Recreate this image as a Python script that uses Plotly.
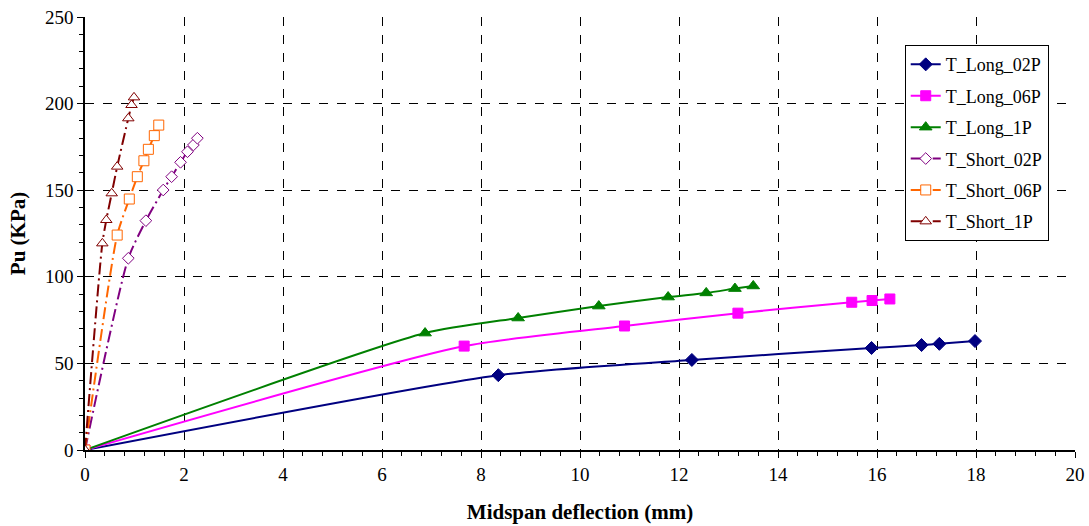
import plotly.graph_objects as go

long02_x = [0, 8.35, 12.26, 15.89, 16.9, 17.26, 17.98]
long02_y = [0, 43.2, 52.0, 58.9, 60.6, 61.3, 62.9]
long06_x = [0, 7.66, 10.9, 13.19, 15.49, 15.9, 16.26]
long06_y = [0, 60.0, 71.6, 79.0, 85.3, 86.3, 87.2]
long1_x = [0, 6.87, 8.75, 10.38, 11.78, 12.55, 13.13, 13.5]
long1_y = [0, 67.5, 76.2, 83.1, 88.3, 90.7, 93.2, 94.7]
short02_x = [0, 0.875, 1.23, 1.58, 1.75, 1.93, 2.07, 2.19, 2.27]
short02_y = [0, 110.7, 132.4, 150.1, 157.8, 166.1, 172.2, 176.1, 180.0]
short06_x = [0, 0.65, 0.895, 1.057, 1.19, 1.28, 1.4, 1.49]
short06_y = [0, 124.1, 144.9, 157.8, 167.0, 173.6, 181.5, 187.6]
short1_x = [0, 0.35, 0.43, 0.54, 0.65, 0.875, 0.94, 0.99]
short1_y = [0, 119.3, 132.8, 148.2, 163.6, 191.5, 199.2, 203.6]

names = ["T_Long_02P", "T_Long_06P", "T_Long_1P", "T_Short_02P", "T_Short_06P", "T_Short_1P"]
xs = [long02_x, long06_x, long1_x, short02_x, short06_x, short1_x]
ys = [long02_y, long06_y, long1_y, short02_y, short06_y, short1_y]
colors = ["#000080", "#FF00FF", "#008000", "#800080", "#FF6600", "#800000"]
symbols = ["diamond", "square", "triangle-up", "diamond", "square", "triangle-up"]
sizes = [10, 10, 11, 9, 10, 10]
filled = [True, True, True, False, False, False]

fig = go.Figure()
for i in range(6):
    fig.add_trace(go.Scatter(
        x=xs[i], y=ys[i], name=names[i], mode="lines+markers",
        legendgroup=names[i],
        line=dict(color=colors[i], width=2, shape="spline", smoothing=0.6,
                  dash="solid" if filled[i] else "12px,4px,2px,4px"),
        marker=dict(symbol=symbols[i], size=sizes[i],
                    color=colors[i] if filled[i] else "white",
                    line=dict(color=colors[i], width=1)),
    ))

font = "Liberation Serif"
fig.update_layout(
    width=1089, height=526,
    margin=dict(l=85, r=14, t=17, b=76, autoexpand=False),
    plot_bgcolor="white", paper_bgcolor="white",
    font=dict(family=font, size=19, color="black"),
    showlegend=True,
    legend=dict(x=0.828, y=0.935, xanchor="left", yanchor="top",
                bgcolor="white", bordercolor="black", borderwidth=1,
                font=dict(family=font, size=18, color="black"), tracegroupgap=5,
                itemwidth=30),
    xaxis=dict(range=[0, 20], dtick=2, showgrid=True, gridcolor="black",
               griddash="dash", gridwidth=1, zeroline=False, automargin=False,
               showline=True, linecolor="black", linewidth=1.5,
               ticks="outside", ticklen=6, tickcolor="black",
               minor=dict(dtick=0.4, ticks="outside", ticklen=4, tickcolor="black", showgrid=False),
               title=dict(text="<b>Midspan deflection (mm)</b>", font=dict(family=font, size=21), standoff=21),
               tickfont=dict(family=font, size=19)),
    yaxis=dict(range=[0, 250], dtick=50, showgrid=True, gridcolor="black",
               griddash="dash", gridwidth=1, zeroline=False, automargin=False,
               showline=True, linecolor="black", linewidth=1.5,
               ticks="outside", ticklen=6, tickcolor="black",
               minor=dict(dtick=10, ticks="outside", ticklen=4, tickcolor="black", showgrid=False),
               title=dict(text="<b>Pu (KPa)</b>", font=dict(family=font, size=21), standoff=14),
               tickfont=dict(family=font, size=19)),
)
fig.write_html("out.html", config={"displayModeBar": False},
               post_script="document.body.style.margin='0';document.body.style.overflow='hidden';")
